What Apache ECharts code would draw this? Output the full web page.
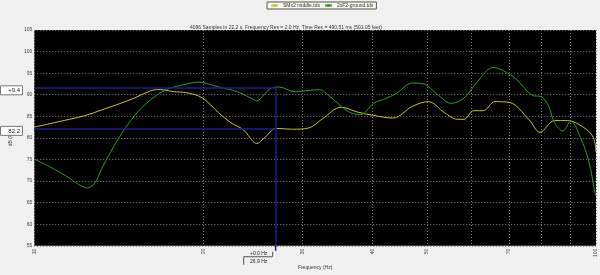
<!DOCTYPE html>
<html>
<head>
<meta charset="utf-8">
<script src="https://cdn.jsdelivr.net/npm/echarts@6/dist/echarts.min.js"></script>
<style>html,body{margin:0;padding:0;background:#f0f0f0;}#c{width:600px;height:275px;}</style>
</head>
<body>
<div id="c"></div>
<script>
// ---- data ----
const xTickValues = [10, 20, 30, 40, 50, 60, 70, 80, 90, 100];
const xLabelValues = [10, 20, 30, 40, 50, 70, 100];
const yMin = 55, yMax = 105, yStep = 5;

const freqA = [10, 11.55, 12.35, 13.2, 14.1, 15.06, 16.1, 16.75, 17.7, 18.6, 19.9, 21.3, 22.4, 23.6, 24.5, 24.9, 25.6, 27.0, 28.8, 30.8, 32.5, 35.2, 37.6, 40.2, 43.5, 47.1, 50.3, 53.8, 56.7, 58.2, 60.6, 63.0, 66.1, 70.2, 75.9, 79.5, 84.4, 88.9, 95.1, 98.9, 100];
const dbA   = [82.5, 84.3, 85.2, 86.5, 87.8, 89.2, 90.9, 91.2, 90.7, 90.5, 89.3, 85.8, 83.5, 81.8, 79.2, 78.7, 79.8, 82.2, 82.0, 82.3, 84.3, 87.1, 86.0, 85.2, 84.6, 87.3, 88.4, 85.8, 84.3, 84.3, 86.3, 86.3, 88.4, 88.2, 84.3, 81.3, 84.0, 84.0, 82.4, 80.1, 76.7];

const freqB = [10, 10.8, 11.55, 12.0, 12.43, 12.8, 13.2, 14.1, 15.06, 16.1, 17.2, 18.4, 19.6, 20, 21.3, 23.0, 24.3, 24.9, 25.6, 26.3, 27.2, 29.2, 30.8, 32.1, 33.4, 35.2, 36.6, 38.1, 40.2, 42.4, 44.1, 47.1, 49.0, 52.4, 55.2, 58.2, 61.4, 65.6, 68.3, 72.0, 76.9, 80.0, 82.2, 84.4, 87.3, 90.2, 93.8, 97.0, 99.6, 100];
const dbB   = [75.1, 72.9, 70.7, 69.2, 68.4, 69.4, 73.0, 79.7, 85.0, 88.8, 91.2, 92.3, 92.9, 92.8, 91.8, 90.7, 89.2, 88.6, 89.9, 91.4, 91.8, 90.7, 91.0, 91.2, 89.9, 87.3, 85.8, 85.4, 88.0, 89.2, 90.3, 92.7, 92.6, 89.9, 88.0, 89.2, 92.9, 96.3, 95.6, 93.7, 89.9, 89.5, 87.6, 83.5, 81.6, 83.9, 80.1, 74.8, 67.3, 66.5];

const seriesNames = ['SMx2 middle.tds', '2xF2-ground.tds'];
const cursorFreq = 26.9;
const cursorUpper = 91.6, cursorLower = 82.2;
const upperLabel = '+9.4', lowerLabel = '82.2';
const cursorTop = '+0.0 Hz', cursorBottom = '26.9 Hz';
const titleText = '4096 Samples in 22.2 s, Frequency Res = 2.0 Hz, Time Res = 490.51 ms (501.05 feet)';

const FONT = 'Liberation Sans';
const chart = echarts.init(document.getElementById('c'), null, {renderer: 'canvas'});

const option = {
  backgroundColor: '#f0f0f0',
  animation: false,
  title: {
    text: titleText, left: 185, top: 20,
    textStyle: {fontSize: 5, fontWeight: 'normal', color: '#333', fontFamily: FONT}
  },
  legend: {
    data: seriesNames, left: 267, top: 2,
    backgroundColor: '#f8f8ec', borderColor: '#555', borderWidth: 1,
    padding: [1, 3], itemGap: 4, itemWidth: 7, itemHeight: 4,
    textStyle: {fontSize: 5, color: '#333', fontFamily: FONT}
  },
  grid: {left: 17, right: 4, top: 30, bottom: 24, show: true, backgroundColor: '#000', borderWidth: 0},
  xAxis: {
    type: 'log', logBase: 10, min: 10, max: 100,
    name: 'Frequency (Hz)', nameLocation: 'middle', nameGap: 16,
    nameTextStyle: {fontSize: 5, color: '#333', fontFamily: FONT},
    axisLine: {show: false},
    axisTick: {show: false, customValues: xTickValues},
    axisLabel: {customValues: xLabelValues, rotate: 90, fontSize: 5, color: '#444', margin: 3, fontFamily: FONT},
    splitLine: {show: true, lineStyle: {color: '#7f7f7f', type: [1, 2], width: 1}}
  },
  yAxis: {
    type: 'value', min: yMin, max: yMax, interval: yStep,
    name: 'dB (Pa)', nameLocation: 'middle', nameGap: 12,
    nameTextStyle: {fontSize: 5, color: '#333', fontFamily: FONT},
    axisLine: {show: false}, axisTick: {show: false},
    axisLabel: {fontSize: 5, color: '#444', margin: 2, fontFamily: FONT},
    splitLine: {show: true, lineStyle: {color: '#7f7f7f', type: [1, 2], width: 1}}
  },
  series: [
    {
      name: seriesNames[0], type: 'line', smooth: 0.35, symbol: 'none',
      lineStyle: {color: '#c9c23c', width: 1}, itemStyle: {color: '#c9c23c'},
      data: freqA.map((f, i) => [f, dbA[i]]), z: 3
    },
    {
      name: seriesNames[1], type: 'line', smooth: 0.35, symbol: 'none',
      lineStyle: {color: '#2f9a2f', width: 1}, itemStyle: {color: '#2f9a2f'},
      data: freqB.map((f, i) => [f, dbB[i]]), z: 4,
      markLine: {
        silent: true, symbol: 'none', animation: false,
        lineStyle: {color: '#1e1e8a', width: 1.5, type: 'solid'},
        label: {show: false},
        data: [
          [{coord: [10, cursorUpper]}, {coord: [cursorFreq, cursorUpper]}],
          [{coord: [10, cursorLower]}, {coord: [cursorFreq, cursorLower]}],
          [{coord: [cursorFreq, yMin]}, {coord: [cursorFreq, cursorUpper]}]
        ]
      }
    }
  ]
};
chart.setOption(option);

// read-out boxes anchored to the cursor through the axis scales
const p = chart.convertToPixel({gridIndex: 0}, [cursorFreq, yMin]);
const cx = p[0], by = p[1];
const yU = chart.convertToPixel({gridIndex: 0}, [10, cursorUpper])[1];
const yL = chart.convertToPixel({gridIndex: 0}, [10, cursorLower])[1];
const sideBox = (yy, txt) => ([
  {type: 'rect', shape: {x: 0.5, y: yy - 2, width: 22, height: 9}, style: {fill: '#fff', stroke: '#777', lineWidth: 1}, z: 10},
  {type: 'text', x: 20, y: yy + 2.8, style: {text: txt, fontSize: 6, fill: '#222', fontFamily: FONT, align: 'right', verticalAlign: 'middle'}, z: 11}
]);
chart.setOption({
  graphic: [
    ...sideBox(yU, upperLabel),
    ...sideBox(yL, lowerLabel),
    {type: 'line', shape: {x1: cx, y1: by, x2: cx, y2: by + 5}, style: {stroke: '#1e1e8a', lineWidth: 1.5}},
    {type: 'text', x: cx - 17, y: by + 8, style: {text: cursorTop, fontSize: 5, fill: '#222', fontFamily: FONT, align: 'center', verticalAlign: 'middle'}},
    {type: 'line', shape: {x1: cx - 32, y1: by + 11, x2: cx - 3, y2: by + 11}, style: {stroke: '#555', lineWidth: 1}},
    {type: 'line', shape: {x1: cx - 3, y1: by + 6, x2: cx - 3, y2: by + 11}, style: {stroke: '#555', lineWidth: 1}},
    {type: 'line', shape: {x1: cx - 32, y1: by + 11, x2: cx - 32, y2: by + 19}, style: {stroke: '#555', lineWidth: 1}},
    {type: 'text', x: cx - 17, y: by + 16, style: {text: cursorBottom, fontSize: 5, fill: '#222', fontFamily: FONT, align: 'center', verticalAlign: 'middle'}}
  ]
});
</script>
</body>
</html>
